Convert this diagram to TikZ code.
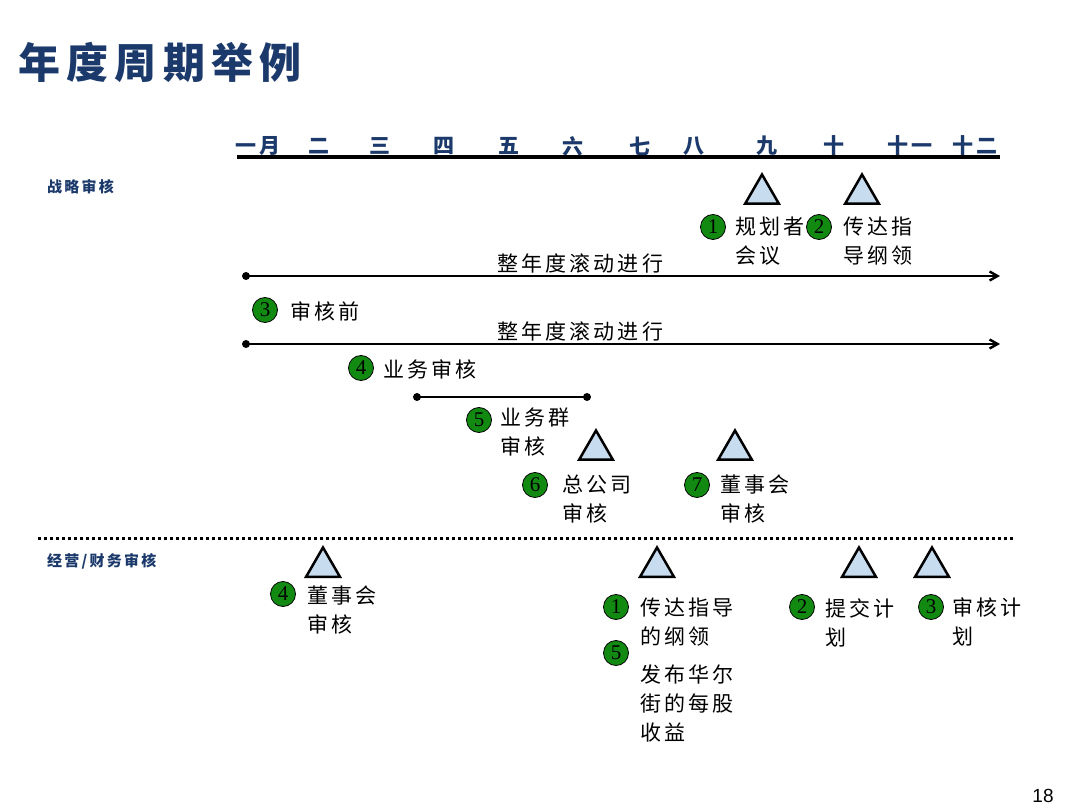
\documentclass[tikz,border=0pt]{standalone}
\usepackage{fontspec}
\usepackage{tikz}
\usetikzlibrary{positioning,shapes.geometric,arrows.meta}
\setmainfont{Noto Sans CJK SC}
\newfontfamily\cjkspaced[LetterSpace=15]{Noto Sans CJK SC}
\newfontfamily\numfont{Liberation Serif}
\newfontfamily\pagefont{Liberation Sans}
\definecolor{navydark}{HTML}{1B3A6B}
\definecolor{markgreen}{HTML}{128A12}
\definecolor{trifill}{HTML}{C8DCF0}
\colorlet{rvline}{black}
\tikzset{
  mon/.style={inner sep=0pt, text=navydark, font=\cjkspaced\bfseries\fontsize{21}{21}\selectfont},
  sect/.style={anchor=west, inner sep=0pt, text=navydark, font=\cjkspaced\bfseries\fontsize{15}{15}\selectfont},
  lab/.style={anchor=north west, inner sep=0pt, align=left, font=\cjkspaced\fontsize{21}{29}\selectfont},
  num/.style={circle, draw=black, line width=0.8pt, fill=markgreen, inner sep=0pt, minimum size=25pt, font=\numfont\fontsize{21}{21}\selectfont},
  tri/.style={regular polygon, regular polygon sides=3, draw=black, line width=2.5pt, fill=trifill, inner sep=0pt, minimum size=39pt},
  dot/.style={circle, fill=rvline, inner sep=0pt, minimum size=8pt},
  roll/.style={draw=rvline, line width=2.4pt, -{Straight Barb[length=8pt,width=9pt]}},
  seg/.style={draw=rvline, line width=2.4pt},
  monthline/.style={draw=rvline, line width=3.2pt},
  divider/.style={draw=rvline, line width=3pt, dash pattern=on 3pt off 3pt}
}

\begin{document}
\begin{tikzpicture}[x=1pt, y=-1pt] % one unit is one pixel of the slide
\useasboundingbox (0,0) rectangle (1080,810);
\node[anchor=west, inner sep=0pt, text=navydark, font=\cjkspaced\bfseries\fontsize{42}{42}\selectfont] (title) at (18,62) {年度周期举例};

% month scale
\foreach \m/\x [count=\i] in {一月/258,二/319,三/380,四/444,五/509,六/573,七/640,八/694,九/767,十/834,十一/910,十二/975}
  \node[mon] (mon\i) at (\x,146) {\m};
\coordinate (tl) at (237,157);
\coordinate (tr) at (1000,157);
\draw[monthline] (tl) -- (tr);

% strategy review
\node[sect] (strat) at (47,187) {战略审核};
\node[tri] (t1) at (762,194) {};
\node[tri] (t2) at (862,194) {};
\node[num] (n1) at (713,227) {1};
\node[lab] (l1) at (735,217) {规划者\\会议};
\node[num] (n2) at (819,227) {2};
\node[lab] (l2) at (843,217) {传达指\\导纲领};

\node[dot] (s1) at (246,276) {};
\coordinate (e1) at (1000,276);
\draw[roll] (s1.center) -- (e1);
\node[lab, anchor=west] (r1) at (497,264) {整年度滚动进行};
\node[num] (n3) at (265,310) {3};
\node[lab, anchor=west] (l3) at (290,311) {审核前};

\node[dot] (s2) at (246,344) {};
\coordinate (e2) at (1000,344);
\draw[roll] (s2.center) -- (e2);
\node[lab, anchor=west] (r2) at (497,332) {整年度滚动进行};
\node[num] (n4) at (361,368) {4};
\node[lab, anchor=west] (l4) at (383,369) {业务审核};

\node[dot] (s3) at (417,397) {};
\node[dot] (s4) at (587,397) {};
\draw[seg] (s3.center) -- (s4.center);
\node[num] (n5) at (479,420) {5};
\node[lab] (l5) at (500,408) {业务群\\审核};
\node[tri] (t3) at (596,450) {};
\node[tri] (t4) at (735,450) {};
\node[num] (n6) at (535,485) {6};
\node[lab] (l6) at (562,475) {总公司\\审核};
\node[num] (n7) at (697,485) {7};
\node[lab] (l7) at (720,475) {董事会\\审核};

\coordinate (dl) at (38,538);
\coordinate (dr) at (1013,538);
\draw[divider] (dl) -- (dr);

% operating / financial review
\node[sect] (oper) at (47,561) {经营/财务审核};
\node[tri] (b1) at (323,567) {};
\node[tri] (b2) at (657,567) {};
\node[tri] (b3) at (859,567) {};
\node[tri] (b4) at (932,567) {};
\node[num] (m4) at (283,594) {4};
\node[lab] (k4) at (307,586) {董事会\\审核};
\node[num] (m1) at (616,607) {1};
\node[lab] (k1) at (640,598) {传达指导\\的纲领};
\node[num] (m5) at (616,653) {5};
\node[lab] (k5) at (640,665) {发布华尔\\街的每股\\收益};
\node[num] (m2) at (802,607) {2};
\node[lab] (k2) at (825,598) {提交计\\划};
\node[num] (m3) at (931,607) {3};
\node[lab] (k3) at (952,598) {审核计\\划};

\node[font=\pagefont\fontsize{19}{19}\selectfont] (pg) at (1043,796) {18};
\end{tikzpicture}
\end{document}
